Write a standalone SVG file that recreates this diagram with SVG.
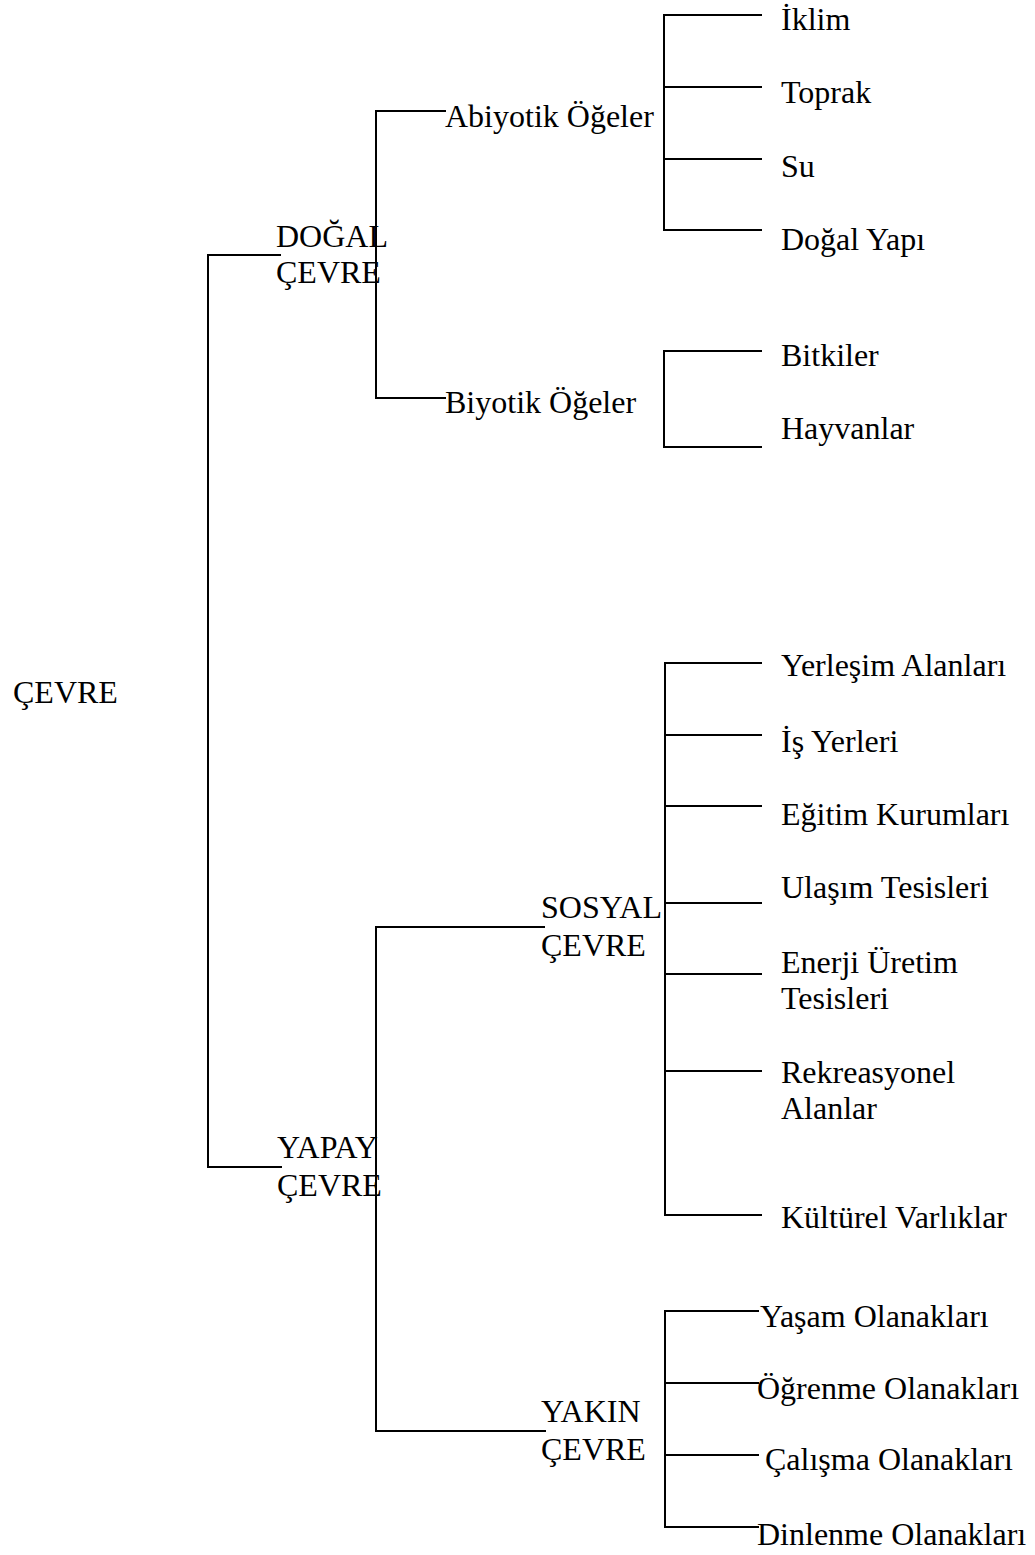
<svg xmlns="http://www.w3.org/2000/svg" width="1035" height="1555" viewBox="0 0 1035 1555">
<style>
text{font-family:"Liberation Serif","Times New Roman",serif;font-size:32px;fill:#000}
.c line{stroke:#000;stroke-width:2;stroke-linecap:square}
</style>
<rect width="1035" height="1555" fill="#fff"/>
<g class="c" id="connectors">
<line x1="208" y1="255" x2="208" y2="1167"/>
<line x1="208" y1="255" x2="280" y2="255"/>
<line x1="208" y1="1167" x2="281" y2="1167"/>
<line x1="376" y1="111" x2="376" y2="398"/>
<line x1="376" y1="111" x2="445" y2="111"/>
<line x1="376" y1="398" x2="445" y2="398"/>
<line x1="664" y1="15" x2="664" y2="230"/>
<line x1="664" y1="15" x2="761" y2="15"/>
<line x1="664" y1="87" x2="761" y2="87"/>
<line x1="664" y1="159" x2="761" y2="159"/>
<line x1="664" y1="230" x2="761" y2="230"/>
<line x1="664" y1="351" x2="664" y2="447"/>
<line x1="664" y1="351" x2="761" y2="351"/>
<line x1="664" y1="447" x2="761" y2="447"/>
<line x1="376" y1="927" x2="376" y2="1431"/>
<line x1="376" y1="927" x2="544" y2="927"/>
<line x1="376" y1="1431" x2="545" y2="1431"/>
<line x1="665" y1="663" x2="665" y2="1215"/>
<line x1="665" y1="663" x2="761" y2="663"/>
<line x1="665" y1="735" x2="761" y2="735"/>
<line x1="665" y1="806" x2="761" y2="806"/>
<line x1="665" y1="903" x2="761" y2="903"/>
<line x1="665" y1="974" x2="761" y2="974"/>
<line x1="665" y1="1071" x2="761" y2="1071"/>
<line x1="665" y1="1215" x2="761" y2="1215"/>
<line x1="665" y1="1311" x2="665" y2="1527"/>
<line x1="665" y1="1311" x2="758" y2="1311"/>
<line x1="665" y1="1383" x2="758" y2="1383"/>
<line x1="665" y1="1455" x2="758" y2="1455"/>
<line x1="665" y1="1527" x2="758" y2="1527"/>
</g>
<g id="cevre"><text x="13" y="703">ÇEVRE</text></g>
<g id="dogal"><text x="276" y="247">DOĞAL</text><text x="276" y="283">ÇEVRE</text></g>
<g id="yapay"><text x="277" y="1158">YAPAY</text><text x="277" y="1196">ÇEVRE</text></g>
<g id="abiyotik"><text x="445" y="127">Abiyotik Öğeler</text></g>
<g id="biyotik"><text x="445" y="413">Biyotik Öğeler</text></g>
<g id="iklim"><text x="781" y="30">İklim</text></g>
<g id="toprak"><text x="781" y="103">Toprak</text></g>
<g id="su"><text x="781" y="177">Su</text></g>
<g id="dogalyapi"><text x="781" y="250">Doğal Yapı</text></g>
<g id="bitkiler"><text x="781" y="366">Bitkiler</text></g>
<g id="hayvanlar"><text x="781" y="439">Hayvanlar</text></g>
<g id="sosyal"><text x="541" y="918">SOSYAL</text><text x="541" y="956">ÇEVRE</text></g>
<g id="yerlesim"><text x="781" y="676">Yerleşim Alanları</text></g>
<g id="isyerleri"><text x="781" y="752">İş Yerleri</text></g>
<g id="egitim"><text x="781" y="825">Eğitim Kurumları</text></g>
<g id="ulasim"><text x="781" y="898">Ulaşım Tesisleri</text></g>
<g id="enerji"><text x="781" y="973">Enerji Üretim</text><text x="781" y="1009">Tesisleri</text></g>
<g id="rekreasyonel"><text x="781" y="1083">Rekreasyonel</text><text x="781" y="1119">Alanlar</text></g>
<g id="kulturel"><text x="781" y="1228">Kültürel Varlıklar</text></g>
<g id="yakin"><text x="541" y="1422">YAKIN</text><text x="541" y="1460">ÇEVRE</text></g>
<g id="yasam"><text x="760" y="1327">Yaşam Olanakları</text></g>
<g id="ogrenme"><text x="757" y="1399">Öğrenme Olanakları</text></g>
<g id="calisma"><text x="765" y="1470">Çalışma Olanakları</text></g>
<g id="dinlenme"><text x="757" y="1545">Dinlenme Olanakları</text></g>
</svg>
